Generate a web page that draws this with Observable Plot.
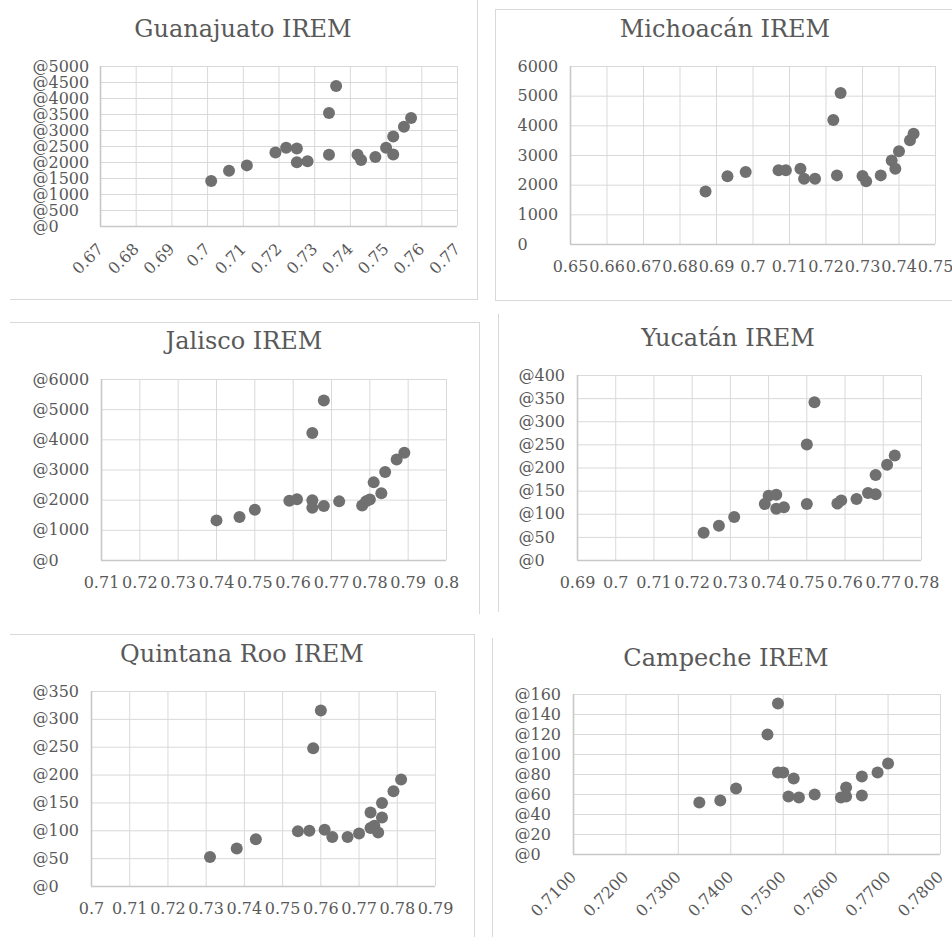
<!DOCTYPE html>
<html><head><meta charset="utf-8">
<script src="https://cdn.jsdelivr.net/npm/d3@7"></script>
<script src="https://cdn.jsdelivr.net/npm/@observablehq/plot@0.6"></script>
<style>
body{margin:0;background:#fff;}
#root{position:relative;width:952px;height:937px;overflow:hidden;font-family:"DejaVu Serif";background:#fff;}
.title{position:absolute;width:400px;text-align:center;font-size:24px;line-height:24px;color:#595959;white-space:nowrap;}
.panel{position:absolute;}
.border{position:absolute;border:0 solid #d9d9d9;}
</style></head><body><div id="root"></div><script>
// ---- data ----
const titles = ["Guanajuato IREM", "Michoacán IREM", "Jalisco IREM", "Yucatán IREM", "Quintana Roo IREM", "Campeche IREM"];

const gtoX = [0.701, 0.706, 0.711, 0.719, 0.722, 0.725, 0.725, 0.728, 0.734, 0.736, 0.734, 0.742, 0.743, 0.747, 0.750, 0.752, 0.752, 0.755, 0.757];
const gtoY = [1420, 1740, 1910, 2310, 2460, 2440, 2010, 2040, 3550, 4390, 2240, 2240, 2080, 2170, 2460, 2810, 2250, 3120, 3390];

const micX = [0.687, 0.693, 0.698, 0.707, 0.709, 0.713, 0.714, 0.717, 0.722, 0.724, 0.723, 0.730, 0.731, 0.735, 0.738, 0.739, 0.740, 0.743, 0.744];
const micY = [1790, 2300, 2440, 2500, 2500, 2550, 2220, 2220, 4200, 5110, 2330, 2310, 2130, 2330, 2830, 2550, 3140, 3510, 3730];

const jalX = [0.740, 0.746, 0.750, 0.759, 0.761, 0.765, 0.768, 0.765, 0.765, 0.768, 0.772, 0.778, 0.779, 0.780, 0.781, 0.783, 0.784, 0.787, 0.789];
const jalY = [1330, 1440, 1680, 1980, 2030, 4230, 5300, 2000, 1750, 1810, 1960, 1820, 1960, 2020, 2590, 2230, 2930, 3350, 3570];

const yucX = [0.723, 0.727, 0.731, 0.739, 0.740, 0.742, 0.742, 0.744, 0.750, 0.752, 0.750, 0.758, 0.759, 0.763, 0.766, 0.768, 0.768, 0.771, 0.773];
const yucY = [60, 75, 94, 122, 140, 142, 112, 115, 251, 342, 122, 123, 130, 133, 146, 143, 185, 207, 227];

const qrooX = [0.731, 0.738, 0.743, 0.754, 0.757, 0.758, 0.760, 0.761, 0.763, 0.767, 0.770, 0.773, 0.773, 0.774, 0.775, 0.776, 0.776, 0.779, 0.781];
const qrooY = [53, 68, 85, 99, 100, 248, 316, 102, 89, 89, 95, 105, 133, 109, 97, 124, 150, 171, 192];

const camX = [0.734, 0.738, 0.741, 0.747, 0.749, 0.749, 0.750, 0.752, 0.751, 0.753, 0.756, 0.761, 0.762, 0.762, 0.765, 0.765, 0.768, 0.770];
const camY = [52, 54, 66, 120, 151, 82, 82, 76, 58, 57, 60, 57, 67, 58, 78, 59, 82, 91];

// ---- tick values and labels ----
const gtoXTicks = [0.67, 0.68, 0.69, 0.70, 0.71, 0.72, 0.73, 0.74, 0.75, 0.76, 0.77];
const gtoXLabels = ["0.67", "0.68", "0.69", "0.7", "0.71", "0.72", "0.73", "0.74", "0.75", "0.76", "0.77"];
const gtoYTicks = [0, 500, 1000, 1500, 2000, 2500, 3000, 3500, 4000, 4500, 5000];
const gtoYLabels = ["@0", "@500", "@1000", "@1500", "@2000", "@2500", "@3000", "@3500", "@4000", "@4500", "@5000"];

const micXTicks = [0.65, 0.66, 0.67, 0.68, 0.69, 0.70, 0.71, 0.72, 0.73, 0.74, 0.75];
const micXLabels = ["0.65", "0.66", "0.67", "0.68", "0.69", "0.7", "0.71", "0.72", "0.73", "0.74", "0.75"];
const micYTicks = [0, 1000, 2000, 3000, 4000, 5000, 6000];
const micYLabels = ["0", "1000", "2000", "3000", "4000", "5000", "6000"];

const jalXTicks = [0.71, 0.72, 0.73, 0.74, 0.75, 0.76, 0.77, 0.78, 0.79, 0.80];
const jalXLabels = ["0.71", "0.72", "0.73", "0.74", "0.75", "0.76", "0.77", "0.78", "0.79", "0.8"];
const jalYTicks = [0, 1000, 2000, 3000, 4000, 5000, 6000];
const jalYLabels = ["@0", "@1000", "@2000", "@3000", "@4000", "@5000", "@6000"];

const yucXTicks = [0.69, 0.70, 0.71, 0.72, 0.73, 0.74, 0.75, 0.76, 0.77, 0.78];
const yucXLabels = ["0.69", "0.7", "0.71", "0.72", "0.73", "0.74", "0.75", "0.76", "0.77", "0.78"];
const yucYTicks = [0, 50, 100, 150, 200, 250, 300, 350, 400];
const yucYLabels = ["@0", "@50", "@100", "@150", "@200", "@250", "@300", "@350", "@400"];

const qrooXTicks = [0.70, 0.71, 0.72, 0.73, 0.74, 0.75, 0.76, 0.77, 0.78, 0.79];
const qrooXLabels = ["0.7", "0.71", "0.72", "0.73", "0.74", "0.75", "0.76", "0.77", "0.78", "0.79"];
const qrooYTicks = [0, 50, 100, 150, 200, 250, 300, 350];
const qrooYLabels = ["@0", "@50", "@100", "@150", "@200", "@250", "@300", "@350"];

const camXTicks = [0.71, 0.72, 0.73, 0.74, 0.75, 0.76, 0.77, 0.78];
const camXLabels = ["0.7100", "0.7200", "0.7300", "0.7400", "0.7500", "0.7600", "0.7700", "0.7800"];
const camYTicks = [0, 20, 40, 60, 80, 100, 120, 140, 160];
const camYLabels = ["@0", "@20", "@40", "@60", "@80", "@100", "@120", "@140", "@160"];

// ---- layout ----
const layout = [
  {box: [0, 0, 476, 300],   frame: [100, 457, 66, 226],  labelX: 32,  rotate: true,  titleC: 243, titleB: 37},
  {box: [476, 0, 476, 300], frame: [570, 935, 66, 244],  labelX: 517, rotate: false, titleC: 725, titleB: 37},
  {box: [0, 310, 476, 310], frame: [101, 446, 379, 560], labelX: 32,  rotate: false, titleC: 244, titleB: 349},
  {box: [476, 310, 476, 310], frame: [577, 921, 375, 560], labelX: 518, rotate: false, titleC: 728, titleB: 346},
  {box: [0, 625, 476, 312], frame: [91, 435, 691, 886],  labelX: 32,  rotate: false, titleC: 242, titleB: 662},
  {box: [476, 625, 476, 312], frame: [573, 940, 694, 854], labelX: 514, rotate: true,  titleC: 726, titleB: 666}
];
const series = [
  [gtoX, gtoY, gtoXTicks, gtoXLabels, gtoYTicks, gtoYLabels],
  [micX, micY, micXTicks, micXLabels, micYTicks, micYLabels],
  [jalX, jalY, jalXTicks, jalXLabels, jalYTicks, jalYLabels],
  [yucX, yucY, yucXTicks, yucXLabels, yucYTicks, yucYLabels],
  [qrooX, qrooY, qrooXTicks, qrooXLabels, qrooYTicks, qrooYLabels],
  [camX, camY, camXTicks, camXLabels, camYTicks, camYLabels]
];

const root = document.getElementById("root");

// faint panel borders
const borders = [
  {l: 10, t: -1, w: 467, h: 300, s: "border-right-width:1px;border-bottom-width:1px;"},
  {l: 495, t: 9, w: 470, h: 290, s: "border-left-width:1px;border-top-width:1px;border-bottom-width:1px;"},
  {l: 10, t: 322, w: 469, h: 291, s: "border-top-width:1px;border-right-width:1px;"},
  {l: 498, t: 314, w: 460, h: 298, s: "border-left-width:1px;"},
  {l: 10, t: 634, w: 464, h: 320, s: "border-top-width:1px;border-right-width:1px;"},
  {l: 492, t: 638, w: 470, h: 320, s: "border-left-width:1px;"}
];
for (const b of borders) {
  const d = document.createElement("div");
  d.className = "border";
  d.style.cssText = `left:${b.l}px;top:${b.t}px;width:${b.w}px;height:${b.h}px;` + b.s;
  root.appendChild(d);
}

layout.forEach((L, i) => {
  const [xs, ys, xt, xl, yt, yl] = series[i];
  const data = xs.map((x, k) => ({x, y: ys[k]}));
  const [x0, y0, w, h] = L.box;
  const [fL, fR, fT, fB] = L.frame;
  const plot = Plot.plot({
    width: w, height: h,
    marginLeft: fL - x0, marginRight: x0 + w - fR, marginTop: fT - y0, marginBottom: y0 + h - fB,
    x: {domain: [xt[0], xt[xt.length - 1]]},
    y: {domain: [0, yt[yt.length - 1]]},
    style: {fontFamily: "DejaVu Serif", fontSize: "16px", color: "#595959", background: "transparent", overflow: "visible"},
    marks: [
      Plot.gridX(xt, {stroke: "#d9d9d9", strokeOpacity: 1, strokeWidth: 1}),
      Plot.gridY(yt, {stroke: "#d9d9d9", strokeOpacity: 1, strokeWidth: 1}),
      Plot.ruleX([xt[0]], {stroke: "#c8c8c8", strokeWidth: 1.6}),
      Plot.ruleY([0], {stroke: "#c8c8c8", strokeWidth: 1.6}),
      L.rotate
        ? Plot.axisX(xt, {label: null, tickSize: 0, tickPadding: 20, tickRotate: -45, tickFormat: d => xl[xt.indexOf(d)], fill: "#595959"})
        : Plot.axisX(xt, {label: null, tickSize: 0, tickPadding: 16, tickFormat: d => xl[xt.indexOf(d)], fill: "#595959"}),
      Plot.axisY(yt, {label: null, tickSize: 0, tickPadding: fL - L.labelX, textAnchor: "start", tickFormat: d => yl[yt.indexOf(d)], fill: "#595959"}),
      Plot.dot(data, {x: "x", y: "y", r: 6, fill: "#707070", stroke: "none"})
    ]
  });
  const wrap = document.createElement("div");
  wrap.className = "panel";
  wrap.style.left = x0 + "px";
  wrap.style.top = y0 + "px";
  wrap.appendChild(plot);
  root.appendChild(wrap);

  const t = document.createElement("div");
  t.className = "title";
  t.textContent = titles[i];
  t.style.left = (L.titleC - 200) + "px";
  t.style.top = (L.titleB - 20) + "px";
  root.appendChild(t);
});
</script></body></html>
